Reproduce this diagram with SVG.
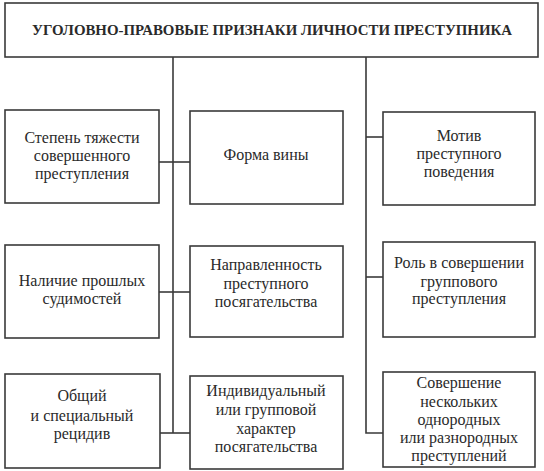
<svg xmlns="http://www.w3.org/2000/svg" width="544" height="471" viewBox="0 0 544 471">
<style>
.box{fill:#fff;stroke:#3a3a3a;stroke-width:1.6}
.ln{fill:none;stroke:#3a3a3a;stroke-width:1.6}
.t{font-family:'Liberation Serif','Times New Roman',serif;font-size:16px;fill:#2a2a2a;text-anchor:middle}
.title{font-weight:bold;font-size:15px}
</style>
<rect width="544" height="471" fill="#fff"/>
<g id="connectors">
<path class="ln" d="M173,57 V433"/>
<path class="ln" d="M366,57 V433 H383"/>
<path class="ln" d="M159,162 H190"/>
<path class="ln" d="M159,292 H190"/>
<path class="ln" d="M160,433 H190"/>
<path class="ln" d="M366,137 H383"/>
<path class="ln" d="M366,277 H383"/>
</g>
<g id="title" class="t">
<rect class="box" x="5" y="3" width="533" height="54"/>
<text class="title" x="272" y="35" textLength="480" lengthAdjust="spacingAndGlyphs">УГОЛОВНО-ПРАВОВЫЕ ПРИЗНАКИ ЛИЧНОСТИ ПРЕСТУПНИКА</text>
</g>
<g id="n1" class="t">
<rect class="box" x="5" y="110" width="154" height="93"/>
<text x="82" y="143">Степень тяжести</text>
<text x="82" y="161">совершенного</text>
<text x="82" y="179">преступления</text>
</g>
<g id="n2" class="t">
<rect class="box" x="5" y="245" width="154" height="93"/>
<text x="82" y="286">Наличие прошлых</text>
<text x="82" y="304">судимостей</text>
</g>
<g id="n3" class="t">
<rect class="box" x="5" y="374" width="155" height="94"/>
<text x="82" y="401">Общий</text>
<text x="82" y="421">и специальный</text>
<text x="82" y="439">рецидив</text>
</g>
<g id="n4" class="t">
<rect class="box" x="190" y="111" width="153" height="93"/>
<text x="266" y="160">Форма вины</text>
</g>
<g id="n5" class="t">
<rect class="box" x="190" y="246" width="153" height="91"/>
<text x="266" y="270">Направленность</text>
<text x="266" y="289">преступного</text>
<text x="266" y="307">посягательства</text>
</g>
<g id="n6" class="t">
<rect class="box" x="190" y="376" width="153" height="93"/>
<text x="266" y="396">Индивидуальный</text>
<text x="266" y="415">или групповой</text>
<text x="266" y="434">характер</text>
<text x="266" y="452">посягательства</text>
</g>
<g id="n7" class="t">
<rect class="box" x="383" y="112" width="152" height="93"/>
<text x="459" y="141">Мотив</text>
<text x="459" y="159">преступного</text>
<text x="459" y="177">поведения</text>
</g>
<g id="n8" class="t">
<rect class="box" x="383" y="242" width="152" height="95"/>
<text x="459" y="268">Роль в совершении</text>
<text x="459" y="287">группового</text>
<text x="459" y="304">преступления</text>
</g>
<g id="n9" class="t">
<rect class="box" x="383" y="372" width="152" height="95"/>
<text x="459" y="388">Совершение</text>
<text x="459" y="407">нескольких</text>
<text x="459" y="425">однородных</text>
<text x="459" y="443">или разнородных</text>
<text x="459" y="461">преступлений</text>
</g>
</svg>
